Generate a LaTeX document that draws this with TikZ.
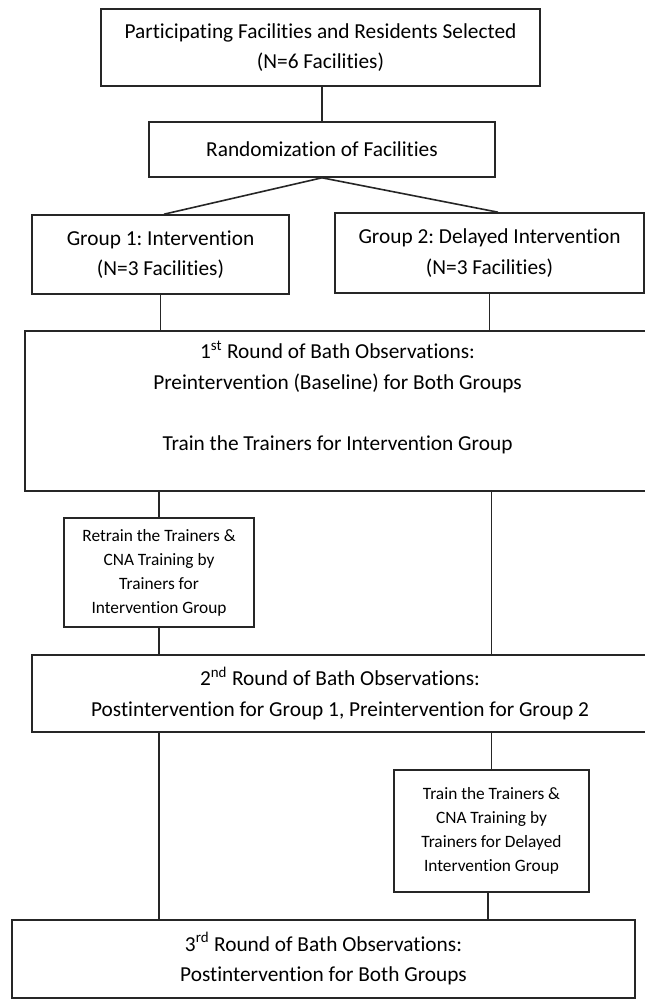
\documentclass[tikz,border=0pt]{standalone}
\usepackage{fontspec}
\setmainfont{Carlito}[Ligatures=NoCommon]
\frenchspacing
\tikzset{
  box/.style={draw=black!85, line width=1.2pt, align=center, inner sep=0pt},
  big/.style={font=\fontsize{16}{23}\selectfont},
  small/.style={font=\fontsize{13}{18}\selectfont},
  link/.style={draw=black!85, line width=1.2pt},
}
\begin{document}
\begin{tikzpicture}[x=0.75pt, y=-0.75pt]
  \clip (0,0) rectangle (645,999);
  \node[box, big, minimum width=329.25pt, minimum height=57.75pt] (sel) at (320.5,47.5)
    {Participating Facilities and Residents Selected\\(N=6 Facilities)};
  \node[box, big, minimum width=259.5pt, minimum height=41.25pt] (rand) at (322,149.5)
    {Randomization of Facilities};
  \node[box, big, minimum width=192.75pt, minimum height=59.25pt] (grpA) at (160.5,254.5)
    {Group 1: Intervention\\(N=3 Facilities)};
  \node[box, big, minimum width=231.75pt, minimum height=60pt] (grpB) at (489.5,253)
    {Group 2: Delayed Intervention\\(N=3 Facilities)};
  \node[box, big, minimum width=468.75pt, minimum height=120pt] (roundA) at (337.5,411)
    {1\textsuperscript{st} Round of Bath Observations:\\Preintervention (Baseline) for Both Groups\\[23pt]Train the Trainers for Intervention Group\\\mbox{}};
  \node[box, small, minimum width=142.5pt, minimum height=81.75pt] (retrain) at (159,572.5)
    {Retrain the Trainers \&\\CNA Training by\\Trainers for\\Intervention Group};
  \node[box, big, minimum width=462pt, minimum height=57.75pt] (roundB) at (340,693.5)
    {2\textsuperscript{nd} Round of Bath Observations:\\Postintervention for Group 1, Preintervention for Group 2};
  \node[box, small, minimum width=146.25pt, minimum height=91.5pt] (trainB) at (491.5,831)
    {Train the Trainers \&\\CNA Training by\\Trainers for Delayed\\Intervention Group};
  \node[box, big, minimum width=467.25pt, minimum height=58.5pt] (roundC) at (323.5,959)
    {3\textsuperscript{rd} Round of Bath Observations:\\Postintervention for Both Groups};

  \draw[link] (rand.north) -- (rand.north |- sel.south);
  \draw[link] (rand.south) -- ([xshift=2.6pt]grpA.north);
  \draw[link] (rand.south) -- ([xshift=6.4pt]grpB.north);
  \draw[link] (grpA.south) -- (grpA.south |- roundA.north);
  \draw[link] (grpB.south) -- (grpB.south |- roundA.north);
  \draw[link] (retrain.north) -- (retrain.north |- roundA.south);
  \draw[link] (trainB.north |- roundA.south) -- (trainB.north |- roundB.north);
  \draw[link] (retrain.south) -- (retrain.south |- roundB.north);
  \draw[link] (retrain.south |- roundB.south) -- (retrain.south |- roundC.north);
  \draw[link] (trainB.north) -- (trainB.north |- roundB.south);
  \draw[link] ([xshift=-2.6pt]trainB.south) -- ([xshift=-2.6pt]trainB.south |- roundC.north);
\end{tikzpicture}
\end{document}
